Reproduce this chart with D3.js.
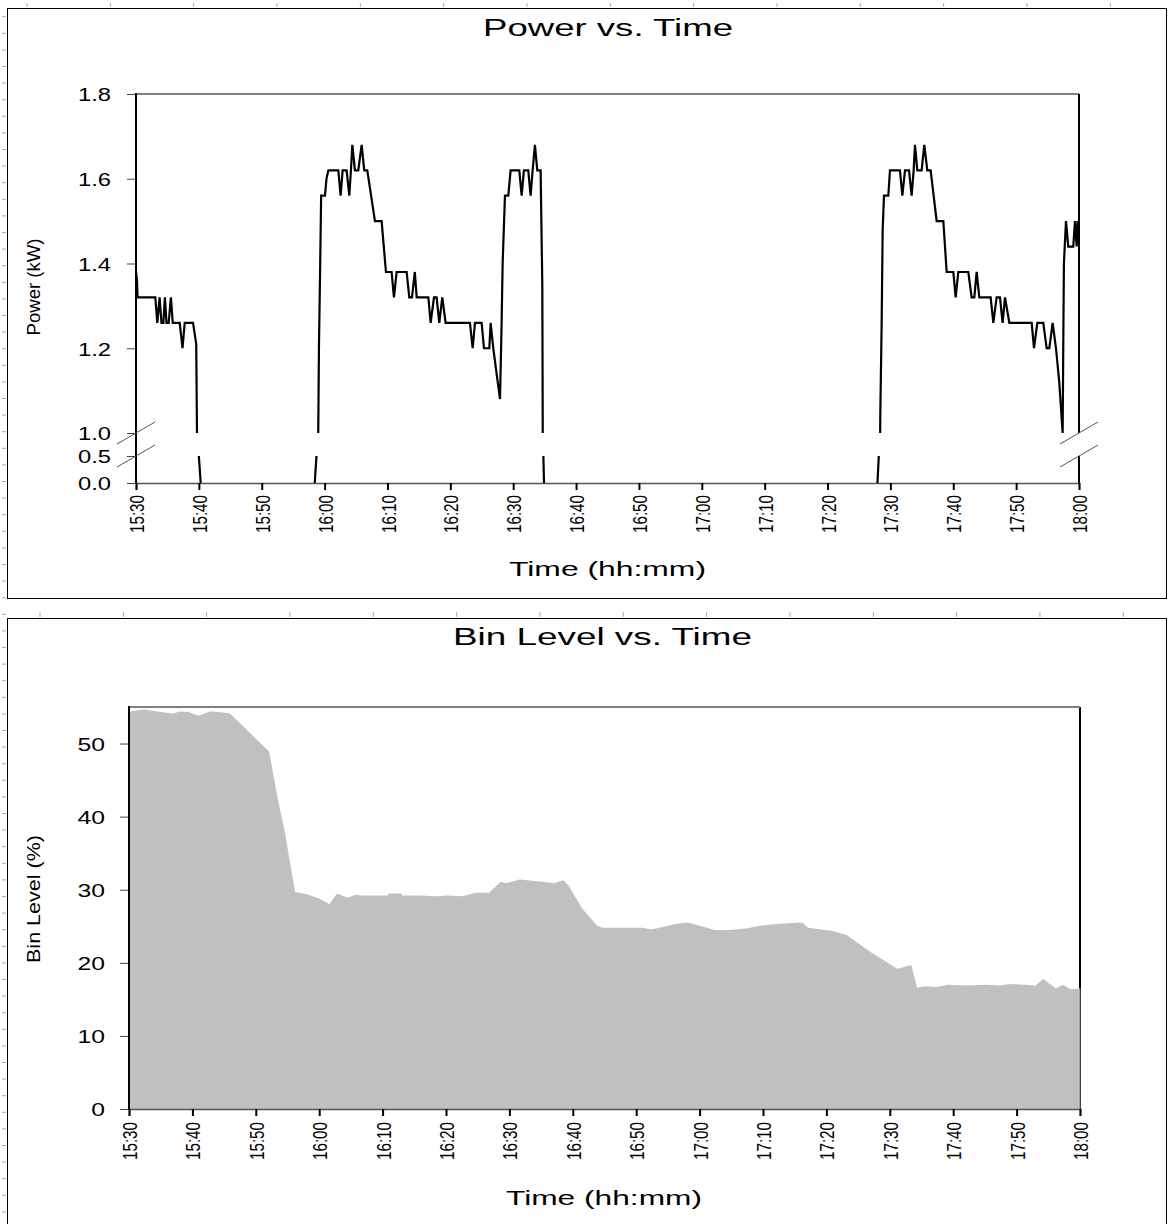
<!DOCTYPE html>
<html>
<head>
<meta charset="utf-8">
<script src="https://cdn.jsdelivr.net/npm/d3@7"></script>
<style>
body { margin: 0; background: #fff; }
svg text { font-family: "Liberation Sans", Arial, sans-serif; fill: #000; }
</style>
</head>
<body>
<div id="chart"></div>
<script>

var startTime = "15:30";
var endTime = "18:00";

// power readings: minutes after 15:30 and kW
var powerMinutes = [
    0.0, 0.15, 0.25, 3.07, 3.39, 3.75, 4.05, 4.35, 4.6, 4.85, 5.2, 5.55, 5.85, 6.95, 7.4, 7.75, 9.07, 9.58, 10.29,
    28.43, 29.1, 29.3, 29.45, 30.06, 30.3, 30.6, 32.18, 32.55, 32.87, 33.5, 33.93, 34.19, 34.41, 34.83, 35.36,
    35.89, 36.31, 36.79, 38.01, 39.07, 39.76, 40.66, 41.03, 41.46, 43.05, 43.47, 43.9, 44.35, 44.65, 46.5,
    46.87, 47.4, 47.82, 48.24, 48.72, 49.25, 53.12, 53.55, 53.92, 54.98, 55.35, 56.2, 56.41, 56.83, 57.36, 57.9,
    58.16, 58.32, 58.69, 59.22, 59.59, 60.97, 61.34, 61.71, 62.4, 62.77, 63.09, 63.46, 63.83, 64.36, 64.63, 64.9,
    117.94, 118.39, 118.61, 118.77, 118.98, 119.67, 119.93, 121.52, 121.9, 122.32, 122.96, 123.38, 123.7, 123.91,
    124.28, 124.97, 125.39, 125.87, 126.4, 127.36, 128.42, 128.95, 130.01, 130.38, 130.8, 132.39, 132.92, 133.35,
    133.72, 134.14, 135.95, 136.37, 136.9, 137.43, 137.85, 138.23, 138.92, 142.47, 142.84, 143.37, 144.32, 144.85,
    145.28, 145.81, 146.34, 146.86, 147.13, 147.4,
    147.5, 147.6, 147.93, 148.29, 149.09, 149.36, 149.63, 149.79, 150
];
var powerKW = [
    1.38, 1.36, 1.32, 1.32, 1.26, 1.32, 1.26, 1.26, 1.32, 1.26, 1.26, 1.32, 1.26, 1.26, 1.20, 1.26, 1.26, 1.21, 0,
    0, 1.20, 1.40, 1.56, 1.56, 1.60, 1.62, 1.62, 1.56, 1.62, 1.62, 1.56, 1.62, 1.68, 1.62, 1.62,
    1.68, 1.62, 1.62, 1.50, 1.50, 1.38, 1.38, 1.32, 1.38, 1.38, 1.32, 1.32, 1.38, 1.32, 1.32,
    1.26, 1.32, 1.32, 1.26, 1.32, 1.26, 1.26, 1.20, 1.26, 1.26, 1.20, 1.20, 1.26, 1.20, 1.14, 1.08,
    1.26, 1.40, 1.56, 1.56, 1.62, 1.62, 1.56, 1.62, 1.62, 1.56, 1.62, 1.68, 1.62, 1.62, 1.35, 0,
    0, 1.04, 1.26, 1.48, 1.56, 1.56, 1.62, 1.62, 1.56, 1.62, 1.62, 1.56, 1.62, 1.68,
    1.62, 1.62, 1.68, 1.62, 1.62, 1.50, 1.50, 1.38, 1.38, 1.32, 1.38, 1.38, 1.32, 1.32,
    1.38, 1.32, 1.32, 1.26, 1.32, 1.32, 1.26, 1.32, 1.26, 1.26, 1.20, 1.26, 1.26, 1.20,
    1.20, 1.26, 1.20, 1.12, 1.06, 1.0,
    1.21, 1.40, 1.50, 1.44, 1.44, 1.50, 1.44, 1.50, 1.47
];

// bin level readings: minutes after 15:30 and %
var binMinutes = [
    0, 2.3, 5.9, 7.0, 8.0, 9.4, 10.9, 12.8, 14.3, 15.9, 17.5, 19.6, 22.1, 22.7, 23.5, 24.6, 25.4, 26.2,
    27.9, 30.0, 31.6, 32.8, 34.5, 35.7, 36.9, 40.8, 40.9, 43.0, 43.1, 46.0, 48.4, 50.2, 52.6, 54.7, 56.8,
    58.6, 59.5, 61.6, 65.2, 67.0, 68.5, 69.3, 71.5, 73.8, 74.6, 81.0, 82.3, 83.2, 86.2, 88.1, 89.9, 92.4,
    94.8, 97.3, 99.7, 102.2, 104.0, 106.2, 107.1, 110.8, 113.2, 116.9, 120.6, 121.2, 123.0, 123.4, 124.3,
    125.5, 127.3, 129.2, 132.2, 135.3, 137.1, 139.0, 143.0, 144.2, 145.1, 146.2, 147.3, 148.5, 150
];
var binLevel = [
    54.4, 54.65, 54.2, 54.1, 54.4, 54.3, 53.8, 54.4, 54.3, 54.1, 52.8, 51.0, 48.9, 46.0, 42.3, 37.8, 33.7, 29.7,
    29.4, 28.8, 28.0, 29.5, 28.9, 29.3, 29.2, 29.2, 29.5, 29.5, 29.2, 29.2, 29.1, 29.2, 29.1, 29.6, 29.6,
    31.1, 30.9, 31.4, 31.1, 30.9, 31.3, 30.6, 27.4, 25.1, 24.8, 24.8, 24.6, 24.7, 25.3, 25.5, 25.1, 24.5,
    24.5, 24.7, 25.1, 25.3, 25.4, 25.5, 24.8, 24.4, 23.8, 21.5, 19.5, 19.2, 19.6, 19.7, 16.6,
    16.8, 16.7, 17.0, 16.9, 17.0, 16.9, 17.1, 16.9, 17.8, 17.2, 16.5, 17.0, 16.4, 16.5
];

var powerTicksUpper = [1.0, 1.2, 1.4, 1.6, 1.8];
var powerTicksLower = [0.0, 0.5];
var binTicks = [0, 10, 20, 30, 40, 50];


var parseHM = d3.timeParse("%H:%M");
var t0 = parseHM(startTime);
var t1 = parseHM(endTime);
function toDate(m) { return new Date(+t0 + m * 60000); }

var svg = d3.select("#chart")
    .append("svg")
    .attr("width", 1168)
    .attr("height", 1224);

function stretch(sel, k) {
    sel.each(function() {
        var len = this.getComputedTextLength();
        d3.select(this).attr("textLength", len * k).attr("lengthAdjust", "spacingAndGlyphs");
    });
}

// window frames + little ruler marks
function frame(y0, h) {
    svg.append("rect")
        .attr("x", 7.5).attr("y", y0 + 0.5)
        .attr("width", 1159).attr("height", h)
        .attr("fill", "none").attr("stroke", "#000");
}
frame(8, 590);
frame(618, 620);

d3.range(27, 1168, 83.33).forEach(function(x) {
    svg.append("line").attr("x1", x).attr("x2", x).attr("y1", 3).attr("y2", 7)
        .attr("stroke", "#aaa");
    svg.append("line").attr("x1", x + 13).attr("x2", x + 13).attr("y1", 612).attr("y2", 617)
        .attr("stroke", "#aaa");
});
d3.range(16.7, 1224, 16.6).forEach(function(y) {
    svg.append("line").attr("x1", 2).attr("x2", 6).attr("y1", y).attr("y2", y)
        .attr("stroke", "#aaa");
});


/* ---------- Power vs. Time ---------- */

var x1 = d3.scaleTime().domain([t0, t1]).range([136, 1079]);
var yHi = d3.scaleLinear().domain([1.0, 1.8]).range([433, 94]);
var yLo = d3.scaleLinear().domain([0, 0.5]).range([483, 456]);

var powerG = svg.append("g");

powerG.append("text")
    .attr("x", 608).attr("y", 36)
    .attr("text-anchor", "middle")
    .attr("font-size", 23)
    .attr("textLength", 250).attr("lengthAdjust", "spacingAndGlyphs")
    .text("Power vs. Time");

// top border
powerG.append("line")
    .attr("x1", 136).attr("x2", 1079).attr("y1", 94).attr("y2", 94)
    .attr("stroke", "#808080").attr("stroke-width", 2);

// right axis (broken)
powerG.append("line")
    .attr("x1", 1079).attr("x2", 1079).attr("y1", yHi(1.8)).attr("y2", yHi(1.0))
    .attr("stroke", "#000").attr("stroke-width", 2);
powerG.append("line")
    .attr("x1", 1079).attr("x2", 1079).attr("y1", yLo(0.5)).attr("y2", yLo(0))
    .attr("stroke", "#000").attr("stroke-width", 2);

// y axes
var gyHi = powerG.append("g")
    .attr("transform", "translate(136,0)")
    .call(d3.axisLeft(yHi).tickValues(powerTicksUpper).tickFormat(d3.format(".1f")).tickSize(9).tickPadding(16));
var gyLo = powerG.append("g")
    .attr("transform", "translate(136,0)")
    .call(d3.axisLeft(yLo).tickValues(powerTicksLower).tickFormat(d3.format(".1f")).tickSize(9).tickPadding(16));

[gyHi, gyLo].forEach(function(g) {
    g.select(".domain").remove();
    g.selectAll(".tick line").attr("stroke", "#444");
    g.selectAll(".tick text").attr("font-size", 19).attr("dy", "0.36em");
    stretch(g.selectAll(".tick text"), 1.25);
});

// x axis
var gx1 = powerG.append("g")
    .attr("transform", "translate(0,483)")
    .call(d3.axisBottom(x1).ticks(d3.timeMinute.every(10)).tickFormat(d3.timeFormat("%H:%M")).tickSize(7));
gx1.select(".domain").attr("stroke", "#555").attr("stroke-width", 1.5);
gx1.selectAll(".tick line").attr("stroke", "#000").attr("stroke-width", 2);
gx1.selectAll(".tick text")
    .attr("font-size", 21)
    .attr("transform", "rotate(-90)")
    .attr("text-anchor", "end")
    .attr("x", -12).attr("y", 0).attr("dy", "0.36em")
    .attr("textLength", 38).attr("lengthAdjust", "spacingAndGlyphs");

// power trace, split where the unit was off
var powerData = powerMinutes.map(function(m, i) {
    return { date: toDate(m), kw: powerKW[i] };
});
var runs = [[]];
powerData.forEach(function(d, i) {
    if (i > 0 && d.kw === 0 && powerData[i - 1].kw === 0) runs.push([]);
    runs[runs.length - 1].push(d);
});

var defs = svg.append("defs");
defs.append("clipPath").attr("id", "clipHi")
    .append("rect").attr("x", 130).attr("y", 90).attr("width", 955).attr("height", 433 - 90);
defs.append("clipPath").attr("id", "clipLo")
    .append("rect").attr("x", 130).attr("y", 456).attr("width", 955).attr("height", 28);

var lineHi = d3.line().x(function(d) { return x1(d.date); }).y(function(d) { return yHi(d.kw); });
var lineLo = d3.line().x(function(d) { return x1(d.date); }).y(function(d) { return yLo(d.kw); });

powerG.append("g").attr("clip-path", "url(#clipHi)")
    .selectAll("path").data(runs).enter().append("path")
    .attr("d", lineHi)
    .attr("fill", "none").attr("stroke", "#000").attr("stroke-width", 2.2)
    .attr("stroke-linejoin", "miter");

powerG.append("g").attr("clip-path", "url(#clipLo)")
    .selectAll("path").data(runs).enter().append("path")
    .attr("d", lineLo)
    .attr("fill", "none").attr("stroke", "#000").attr("stroke-width", 2.2);

// left axis line (continuous)
powerG.append("line")
    .attr("x1", 136).attr("x2", 136).attr("y1", 93).attr("y2", 484)
    .attr("stroke", "#000").attr("stroke-width", 2);

// axis break marks
[136, 1079].forEach(function(ax) {
    [yHi(1.0), yLo(0.5)].forEach(function(by) {
        powerG.append("line")
            .attr("x1", ax - 19).attr("y1", by + 11)
            .attr("x2", ax + 19).attr("y2", by - 11)
            .attr("stroke", "#555").attr("stroke-width", 1);
    });
});

powerG.append("text")
    .attr("x", 607.5).attr("y", 576)
    .attr("text-anchor", "middle")
    .attr("font-size", 21)
    .attr("textLength", 197).attr("lengthAdjust", "spacingAndGlyphs")
    .text("Time (hh:mm)");

powerG.append("text")
    .attr("transform", "translate(40,287) rotate(-90)")
    .attr("text-anchor", "middle")
    .attr("font-size", 19)
    .attr("textLength", 97).attr("lengthAdjust", "spacingAndGlyphs")
    .text("Power (kW)");


/* ---------- Bin Level vs. Time ---------- */

var x2 = d3.scaleTime().domain([t0, t1]).range([129, 1080]);
var y2 = d3.scaleLinear().domain([0, 55]).range([1109, 707]);

var binG = svg.append("g");

binG.append("text")
    .attr("x", 602.5).attr("y", 645)
    .attr("text-anchor", "middle")
    .attr("font-size", 23)
    .attr("textLength", 299).attr("lengthAdjust", "spacingAndGlyphs")
    .text("Bin Level vs. Time");

binG.append("line")
    .attr("x1", 1080).attr("x2", 1080).attr("y1", 707).attr("y2", 1109)
    .attr("stroke", "#000").attr("stroke-width", 2);

var binData = binMinutes.map(function(m, i) {
    return { date: toDate(m), level: binLevel[i] };
});

var area = d3.area()
    .x(function(d) { return x2(d.date); })
    .y0(y2(0))
    .y1(function(d) { return y2(d.level); });

binG.append("path")
    .datum(binData)
    .attr("d", area)
    .attr("fill", "#c0c0c0");

binG.append("line")
    .attr("x1", 1080).attr("x2", 1080).attr("y1", y2(binLevel[binLevel.length - 1])).attr("y2", 1109)
    .attr("stroke", "#808080").attr("stroke-width", 1);

binG.append("line")
    .attr("x1", 129).attr("x2", 1080).attr("y1", 707).attr("y2", 707)
    .attr("stroke", "#808080").attr("stroke-width", 2);

var gy2 = binG.append("g")
    .attr("transform", "translate(129,0)")
    .call(d3.axisLeft(y2).tickValues(binTicks).tickSize(9).tickPadding(15));
gy2.select(".domain").remove();
gy2.selectAll(".tick line").attr("stroke", "#444");
gy2.selectAll(".tick text").attr("font-size", 19).attr("dy", "0.36em");
stretch(gy2.selectAll(".tick text"), 1.3);

var gx2 = binG.append("g")
    .attr("transform", "translate(0,1109)")
    .call(d3.axisBottom(x2).ticks(d3.timeMinute.every(10)).tickFormat(d3.timeFormat("%H:%M")).tickSize(7));
gx2.select(".domain").attr("stroke", "#555").attr("stroke-width", 1.5);
gx2.selectAll(".tick line").attr("stroke", "#000").attr("stroke-width", 2);
gx2.selectAll(".tick text")
    .attr("font-size", 21)
    .attr("transform", "rotate(-90)")
    .attr("text-anchor", "end")
    .attr("x", -13).attr("y", 0).attr("dy", "0.36em")
    .attr("textLength", 38).attr("lengthAdjust", "spacingAndGlyphs");

binG.append("line")
    .attr("x1", 129).attr("x2", 129).attr("y1", 706).attr("y2", 1110)
    .attr("stroke", "#000").attr("stroke-width", 2);

binG.append("text")
    .attr("x", 604).attr("y", 1205)
    .attr("text-anchor", "middle")
    .attr("font-size", 21)
    .attr("textLength", 196).attr("lengthAdjust", "spacingAndGlyphs")
    .text("Time (hh:mm)");

binG.append("text")
    .attr("transform", "translate(40,899) rotate(-90)")
    .attr("text-anchor", "middle")
    .attr("font-size", 19)
    .attr("textLength", 128).attr("lengthAdjust", "spacingAndGlyphs")
    .text("Bin Level (%)");

</script>
</body>
</html>
